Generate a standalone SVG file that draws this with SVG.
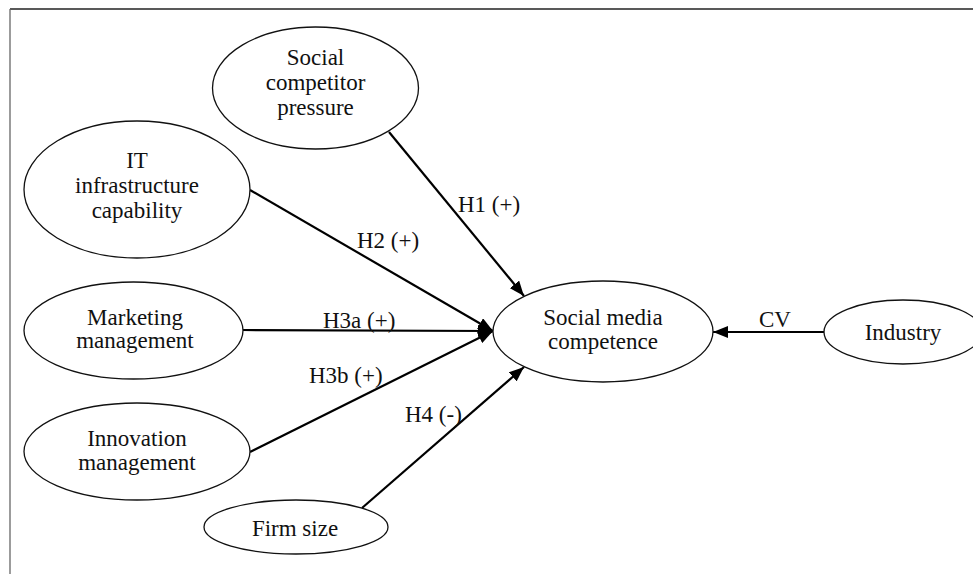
<svg xmlns="http://www.w3.org/2000/svg" width="973" height="574" viewBox="0 0 973 574">
<style>
  .node ellipse { fill: #ffffff; stroke: #111111; stroke-width: 1.3; }
  .node text { font-family: "Liberation Serif", "Times New Roman", serif; font-size: 23px; fill: #111111; text-anchor: middle; }
  .edge { stroke: #000000; stroke-width: 2.2; fill: none; marker-end: url(#arrow); }
  .lbl { font-family: "Liberation Serif", "Times New Roman", serif; font-size: 23px; fill: #111111; }
</style>
<defs>
  <marker id="arrow" markerUnits="userSpaceOnUse" markerWidth="16" markerHeight="12" refX="15" refY="6" orient="auto">
    <path d="M0,0 L15,6 L0,12 Z" fill="#000000"/>
  </marker>
</defs>
<rect x="0" y="0" width="973" height="574" fill="#ffffff"/>
<line x1="10" y1="9" x2="973" y2="9" stroke="#222222" stroke-width="1.3"/>
<line x1="10" y1="9" x2="10" y2="574" stroke="#666666" stroke-width="1.3"/>

<g id="connectors">
  <line class="edge" x1="389" y1="132" x2="524" y2="296"/>
  <line class="edge" x1="250" y1="190" x2="493" y2="331"/>
  <line class="edge" x1="243" y1="330" x2="493" y2="331"/>
  <line class="edge" x1="250" y1="452" x2="493" y2="331"/>
  <line class="edge" x1="362" y1="508" x2="524" y2="367"/>
  <line class="edge" x1="824" y1="332" x2="713" y2="332"/>
  <text class="lbl" x="458" y="212">H1 (+)</text>
  <text class="lbl" x="357" y="248">H2 (+)</text>
  <text class="lbl" x="323" y="328">H3a (+)</text>
  <text class="lbl" x="309" y="383">H3b (+)</text>
  <text class="lbl" x="405" y="422">H4 (-)</text>
  <text class="lbl" x="775" y="327" text-anchor="middle">CV</text>
</g>

<g id="social-competitor-pressure" class="node">
  <ellipse cx="315.5" cy="88" rx="103" ry="61"/>
  <text x="315.5" y="65">Social</text>
  <text x="315.5" y="90">competitor</text>
  <text x="315.5" y="115">pressure</text>
</g>
<g id="it-infrastructure-capability" class="node">
  <ellipse cx="137" cy="189.5" rx="113" ry="68.5"/>
  <text x="137" y="168">IT</text>
  <text x="137" y="193">infrastructure</text>
  <text x="137" y="218">capability</text>
</g>
<g id="marketing-management" class="node">
  <ellipse cx="133.5" cy="330.5" rx="109.5" ry="48.5"/>
  <text x="135" y="325">Marketing</text>
  <text x="135" y="348">management</text>
</g>
<g id="innovation-management" class="node">
  <ellipse cx="137" cy="451.5" rx="113" ry="48.5"/>
  <text x="137" y="446">Innovation</text>
  <text x="137" y="470">management</text>
</g>
<g id="firm-size" class="node">
  <ellipse cx="296" cy="527" rx="92" ry="27"/>
  <text x="295" y="536">Firm size</text>
</g>
<g id="social-media-competence" class="node">
  <ellipse cx="603" cy="331.5" rx="110" ry="50.5"/>
  <text x="603" y="325">Social media</text>
  <text x="603" y="349">competence</text>
</g>
<g id="industry" class="node">
  <ellipse cx="903" cy="332" rx="79" ry="32"/>
  <text x="903" y="340">Industry</text>
</g>
</svg>
